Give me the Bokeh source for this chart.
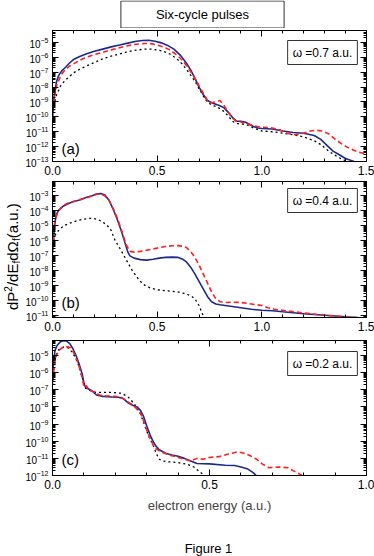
from bokeh.plotting import figure
from bokeh.models import (FixedTicker, LogAxis, LinearAxis, Label, Range1d,
                          PrintfTickFormatter, LogTickFormatter, BasicTickFormatter,
                          CustomLabelingPolicy)
from bokeh.layouts import column, row
from bokeh.embed import file_html
from bokeh.resources import INLINE

FONT = "Liberation Sans"
BLUE = "#1b2a8c"
RED = "#ff1f1f"
BLACK = "#000000"

# ---------------- data (y given as log10 of dP^2/dE dOmega) ----------------
# panel (a)  omega = 0.7 a.u.
a_blue_x = [0.0, 0.005, 0.01, 0.02, 0.03, 0.045, 0.06, 0.08, 0.1, 0.13, 0.16, 0.2, 0.24, 0.28, 0.32, 0.36,
            0.4, 0.43, 0.46, 0.49, 0.52, 0.55, 0.58, 0.61, 0.64, 0.66, 0.68, 0.7, 0.72, 0.74, 0.76, 0.78,
            0.8, 0.82, 0.84, 0.86, 0.88, 0.9, 0.92, 0.94, 0.96, 0.98, 1.0, 1.05, 1.1, 1.15, 1.2, 1.25,
            1.28, 1.31, 1.34, 1.37, 1.4, 1.43, 1.46, 1.5]
a_blue_lg = [-10.3, -9.0, -8.3, -7.6, -7.2, -6.9, -6.7, -6.4, -6.15, -5.95, -5.78, -5.6, -5.45, -5.3, -5.18, -5.05,
             -4.92, -4.87, -4.86, -4.92, -5.03, -5.2, -5.45, -5.85, -6.4, -6.85, -7.4, -8.0, -8.5, -8.9, -9.05, -9.15,
             -9.25, -9.4, -9.7, -10.05, -10.3, -10.3, -10.35, -10.5, -10.65, -10.75, -10.78, -10.82, -10.95, -11.05, -11.1, -11.25,
             -11.5, -11.9, -12.3, -12.55, -12.8, -12.95, -13.1, -13.3]
a_red_x = [0.005, 0.01, 0.02, 0.04, 0.06, 0.08, 0.1, 0.13, 0.16, 0.2, 0.24, 0.28, 0.32, 0.36, 0.4, 0.44,
           0.47, 0.5, 0.53, 0.56, 0.59, 0.62, 0.65, 0.68, 0.7, 0.72, 0.74, 0.76, 0.78, 0.8, 0.82, 0.84,
           0.86, 0.88, 0.9, 0.93, 0.96, 1.0, 1.04, 1.08, 1.12, 1.16, 1.2, 1.23, 1.26, 1.29, 1.32, 1.35,
           1.38, 1.41, 1.44, 1.47, 1.5]
a_red_lg = [-9.2, -8.6, -7.9, -7.2, -6.85, -6.6, -6.45, -6.2, -6.0, -5.82, -5.67, -5.5, -5.36, -5.22, -5.12, -5.07,
            -5.08, -5.18, -5.3, -5.5, -5.8, -6.2, -6.75, -7.4, -7.9, -8.4, -8.9, -9.05, -9.0, -8.9, -9.25, -9.7,
            -10.1, -10.3, -10.35, -10.45, -10.6, -10.7, -10.72, -10.85, -11.1, -11.2, -11.1, -10.95, -10.9, -10.95, -11.15, -11.5,
            -11.8, -12.05, -12.25, -12.4, -12.5]
a_blk_x = [0.005, 0.01, 0.02, 0.04, 0.06, 0.08, 0.1, 0.13, 0.16, 0.2, 0.24, 0.28, 0.32, 0.36, 0.4, 0.44,
           0.47, 0.5, 0.53, 0.56, 0.59, 0.62, 0.65, 0.68, 0.7, 0.72, 0.74, 0.76, 0.78, 0.8, 0.82, 0.84,
           0.86, 0.88, 0.9, 0.93, 0.96, 1.0, 1.05, 1.1, 1.15, 1.2, 1.25, 1.28, 1.31, 1.34, 1.37, 1.4, 1.42]
a_blk_lg = [-9.6, -9.0, -8.5, -7.9, -7.55, -7.3, -7.05, -6.8, -6.6, -6.35, -6.1, -5.92, -5.78, -5.62, -5.52, -5.45,
            -5.45, -5.5, -5.6, -5.78, -6.05, -6.45, -7.0, -7.6, -8.1, -8.6, -9.0, -9.2, -9.3, -9.45, -9.65, -9.95,
            -10.3, -10.45, -10.45, -10.55, -10.75, -10.95, -11.0, -11.1, -11.2, -11.35, -11.6, -11.85, -12.2, -12.5, -12.75, -12.95, -13.1]

# panel (b)  omega = 0.4 a.u.
b_blue_x = [0.0, 0.005, 0.01, 0.015, 0.02, 0.03, 0.05, 0.08, 0.1, 0.13, 0.16, 0.19, 0.21, 0.23, 0.25, 0.27,
            0.29, 0.31, 0.33, 0.35, 0.36, 0.37, 0.39, 0.42, 0.45, 0.48, 0.51, 0.54, 0.57, 0.6, 0.62, 0.64,
            0.66, 0.68, 0.7, 0.72, 0.74, 0.76, 0.78, 0.8, 0.85, 0.9, 0.95, 1.0, 1.05, 1.1, 1.2, 1.3, 1.4, 1.5]
b_blue_lg = [-6.8, -5.9, -5.0, -4.5, -4.2, -3.95, -3.7, -3.5, -3.38, -3.28, -3.12, -3.0, -2.88, -2.85, -2.95, -3.3,
             -3.9, -4.6, -5.4, -6.3, -6.75, -7.0, -7.15, -7.25, -7.28, -7.22, -7.15, -7.1, -7.08, -7.1, -7.2, -7.4,
             -7.75, -8.2, -8.7, -9.2, -9.7, -10.05, -10.2, -10.25, -10.35, -10.45, -10.55, -10.62, -10.65, -10.72, -10.85, -10.95, -11.05, -11.15]
b_red_x = [0.0, 0.005, 0.01, 0.02, 0.03, 0.05, 0.08, 0.1, 0.13, 0.16, 0.19, 0.21, 0.23, 0.25, 0.27, 0.29,
           0.31, 0.33, 0.35, 0.37, 0.39, 0.42, 0.45, 0.48, 0.51, 0.54, 0.57, 0.6, 0.62, 0.64, 0.66, 0.68,
           0.7, 0.72, 0.74, 0.76, 0.78, 0.8, 0.83, 0.86, 0.9, 0.95, 1.0, 1.03, 1.06, 1.1, 1.2, 1.3, 1.4, 1.5]
b_red_lg = [-6.6, -5.6, -4.8, -4.3, -4.0, -3.65, -3.45, -3.4, -3.25, -3.15, -3.0, -2.9, -2.9, -3.0, -3.3, -3.85,
            -4.5, -5.3, -6.2, -6.7, -6.75, -6.7, -6.62, -6.55, -6.45, -6.38, -6.33, -6.32, -6.35, -6.45, -6.7, -7.1,
            -7.6, -8.2, -8.8, -9.4, -9.85, -10.05, -10.1, -10.08, -10.1, -10.2, -10.3, -10.45, -10.55, -10.62, -10.8, -10.95, -11.05, -11.15]
b_blk_x = [0.0, 0.005, 0.01, 0.02, 0.04, 0.06, 0.09, 0.12, 0.15, 0.18, 0.2, 0.22, 0.24, 0.26, 0.28, 0.3,
           0.32, 0.34, 0.36, 0.38, 0.4, 0.42, 0.44, 0.47, 0.5, 0.55, 0.6, 0.63, 0.66, 0.68, 0.7, 0.72, 0.73]
b_blk_lg = [-6.3, -6.0, -5.7, -5.45, -5.15, -4.95, -4.78, -4.65, -4.55, -4.5, -4.52, -4.6, -4.75, -4.95, -5.3, -6.0,
            -6.45, -6.95, -7.45, -7.95, -8.35, -8.7, -8.95, -9.15, -9.25, -9.33, -9.4, -9.5, -9.65, -9.85, -10.3, -11.0, -11.3]

# panel (c)  omega = 0.2 a.u.
c_blue_x = [0.0, 0.003, 0.008, 0.015, 0.025, 0.035, 0.045, 0.055, 0.065, 0.075, 0.085, 0.095, 0.1, 0.105, 0.115, 0.125,
            0.14, 0.16, 0.19, 0.21, 0.225, 0.24, 0.255, 0.27, 0.28, 0.29, 0.3, 0.31, 0.32, 0.33, 0.34, 0.36,
            0.38, 0.4, 0.42, 0.44, 0.46, 0.5, 0.55, 0.58, 0.6, 0.62, 0.64, 0.66, 0.68]
c_blue_lg = [-6.5, -5.4, -4.7, -4.4, -4.2, -4.13, -4.15, -4.3, -4.6, -5.0, -5.5, -6.1, -6.6, -6.85, -6.95, -7.05,
             -7.3, -7.38, -7.42, -7.43, -7.5, -7.75, -7.9, -8.0, -8.2, -8.55, -9.1, -9.6, -10.0, -10.3, -10.5, -10.7,
             -10.8, -10.88, -11.0, -11.15, -11.3, -11.32, -11.4, -11.42, -11.5, -11.6, -11.85, -12.2, -12.6]
c_red_x = [0.0, 0.005, 0.01, 0.02, 0.03, 0.045, 0.055, 0.065, 0.075, 0.085, 0.095, 0.1, 0.108, 0.115, 0.13, 0.15,
           0.17, 0.2, 0.22, 0.24, 0.26, 0.28, 0.29, 0.3, 0.31, 0.32, 0.33, 0.35, 0.37, 0.4, 0.42, 0.44,
           0.46, 0.48, 0.5, 0.53, 0.56, 0.59, 0.61, 0.63, 0.65, 0.67, 0.69, 0.72, 0.75, 0.78, 0.8, 0.83]
c_red_lg = [-6.5, -5.8, -5.1, -4.72, -4.55, -4.48, -4.52, -4.75, -5.1, -5.65, -6.3, -6.85, -6.75, -7.0, -7.1, -7.3,
            -7.35, -7.38, -7.45, -7.7, -7.95, -8.35, -8.8, -9.35, -9.8, -10.2, -10.45, -10.65, -10.8, -10.95, -11.05, -11.15,
            -11.0, -11.05, -10.95, -10.9, -10.75, -10.62, -10.7, -10.85, -11.05, -11.35, -11.55, -11.5, -11.55, -11.85, -12.05, -12.2]
c_blk_x = [0.0, 0.005, 0.01, 0.02, 0.035, 0.05, 0.065, 0.08, 0.095, 0.105, 0.12, 0.14, 0.16, 0.19, 0.22, 0.24,
           0.26, 0.28, 0.29, 0.3, 0.31, 0.32, 0.33, 0.34, 0.35, 0.37, 0.4, 0.43, 0.45, 0.47, 0.49]
c_blk_lg = [-6.7, -5.7, -5.0, -4.65, -4.5, -4.55, -4.85, -5.4, -6.3, -6.9, -7.05, -7.15, -7.15, -7.15, -7.2, -7.4,
            -7.8, -8.4, -8.9, -9.4, -9.85, -10.2, -10.7, -11.05, -11.15, -11.2, -11.25, -11.35, -11.5, -11.8, -12.1]

panel_tags = ["(a)", "(b)", "(c)"]
omega_texts = ["\u03c9 =0.7 a.u.", "\u03c9 =0.4 a.u.", "\u03c9 =0.2 a.u."]
x_ticks_ab = [0.0, 0.5, 1.0, 1.5]
x_ticks_c = [0.0, 0.5, 1.0]
title_text = "Six-cycle pulses"
xlabel_text = "electron energy (a.u.)"
footer_text = "Figure 1"
ylabel_parts = [("dP", "main"), ("2", "sup"), ("/dE", "main"), ("f", "sub"),
                ("d\u03a9", "main"), ("f", "sub"), (" (a.u.)", "main")]

# ---------------- layout constants ----------------
TOTAL_W, TOTAL_H = 374, 556
SIDE_W = 22
W = TOTAL_W - SIDE_W       # panel width
FRAME_L = 27               # frame left edge at x = 49
FRAME_R = 8


def no_align(f):
    try:
        f.frame_align = False
    except Exception:
        pass


def style_axis(ax, labels=True, size="10px"):
    ax.major_tick_in = 6
    ax.major_tick_out = 0
    ax.minor_tick_in = 3
    ax.minor_tick_out = 0
    ax.axis_line_color = "black"
    ax.major_tick_line_color = "black"
    ax.minor_tick_line_color = "black"
    ax.major_label_text_font = FONT
    ax.major_label_text_color = "black"
    if labels:
        ax.major_label_text_font_size = size
        ax.major_label_standoff = 4
    else:
        ax.formatter = BasicTickFormatter()
        ax.major_label_text_font_size = "0px"
        ax.major_label_standoff = 0
        ax.major_label_policy = CustomLabelingPolicy(code="return new Set()")


def blank_fig(w, h):
    f = figure(width=w, height=h, x_range=Range1d(0, w), y_range=Range1d(0, h),
               output_backend="svg", toolbar_location=None, min_border=0,
               x_axis_location=None, y_axis_location=None)
    f.grid.visible = False
    f.outline_line_color = None
    f.background_fill_color = "white"
    f.border_fill_color = "white"
    no_align(f)
    return f


def make_panel(xmax, xticks, ylo, yhi, top, frame_h, bottom, series, tag, omega, tag_y, box_cy):
    p = figure(width=W, height=top + frame_h + bottom, y_axis_type="log",
               x_range=Range1d(0, xmax), y_range=Range1d(10 ** ylo, 10 ** yhi),
               output_backend="svg", toolbar_location=None,
               min_border_left=FRAME_L, min_border_right=FRAME_R,
               min_border_top=top, min_border_bottom=bottom)
    p.grid.visible = False
    p.outline_line_color = "black"
    p.background_fill_color = "white"
    p.border_fill_color = "white"

    decades = list(range(int(ylo) - 1, int(yhi) + 2))
    ymaj = [10.0 ** k for k in decades]
    ymin = [m * 10.0 ** k for k in decades for m in range(2, 10)]
    yt = FixedTicker(ticks=ymaj, minor_ticks=ymin)
    nmin = int(round(xmax * 10))
    xt = FixedTicker(ticks=xticks, minor_ticks=[i / 10 for i in range(nmin + 1)])

    yax = p.left[0]
    yax.ticker = yt
    yax.formatter = LogTickFormatter()
    style_axis(yax, True, "10px")
    xax = p.below[0]
    xax.ticker = xt
    xax.formatter = PrintfTickFormatter(format="%.1f")
    style_axis(xax, True, "12px")

    ra = LogAxis(ticker=yt)
    style_axis(ra, False)
    p.add_layout(ra, "right")
    ta = LinearAxis(ticker=xt)
    style_axis(ta, False)
    p.add_layout(ta, "above")

    for xs, lg, color, dash, lw in series:
        p.line(xs, [10.0 ** v for v in lg], line_color=color, line_dash=dash, line_width=lw)

    p.add_layout(Label(x=9, y=tag_y, x_units="screen", y_units="screen", text=tag,
                       text_font=FONT, text_font_size="15px", text_color="black"))
    p.add_layout(Label(x=270, y=box_cy, x_units="screen", y_units="screen", text=omega,
                       text_font=FONT, text_font_size="12px", text_color="black",
                       text_align="center", text_baseline="middle",
                       border_line_color="#333333", border_line_width=1,
                       background_fill_color="white", padding=5))
    return p


# title strip (title box centred at x = 202 in the page)
title_fig = blank_fig(W, 28)
title_fig.add_layout(Label(x=202 - SIDE_W, y=14, text=title_text,
                           text_font=FONT, text_font_size="13px", text_color="black",
                           text_align="center", text_baseline="middle",
                           border_line_color="#333333", border_line_width=1,
                           background_fill_color="white", padding=(35, 6)))

pa = make_panel(1.5, x_ticks_ab, -13, -4.2, 2, 131, 17,
                [(a_blk_x, a_blk_lg, BLACK, "2 3", 1.3),
                 (a_blue_x, a_blue_lg, BLUE, "solid", 1.6),
                 (a_red_x, a_red_lg, RED, "5 3", 1.6)],
                panel_tags[0], omega_texts[0], 5, 109)
pb = make_panel(1.5, x_ticks_ab, -11.1, -2.05, 3, 136, 19,
                [(b_blk_x, b_blk_lg, BLACK, "2 3", 1.3),
                 (b_blue_x, b_blue_lg, BLUE, "solid", 1.6),
                 (b_red_x, b_red_lg, RED, "5 3", 1.6)],
                panel_tags[1], omega_texts[1], 7, 117)
pc = make_panel(1.0, x_ticks_c, -12, -4.12, 4, 135, 63,
                [(c_blk_x, c_blk_lg, BLACK, "2 3", 1.3),
                 (c_blue_x, c_blue_lg, BLUE, "solid", 1.6),
                 (c_red_x, c_red_lg, RED, "5 3", 1.6)],
                panel_tags[2], omega_texts[2], 8, 112)

xl = pc.below[0]
xl.axis_label = xlabel_text
xl.axis_label_text_font = FONT
xl.axis_label_text_font_size = "13px"
xl.axis_label_text_font_style = "normal"
xl.axis_label_standoff = 6

# footer strip ("Figure 1" centred at x = 210 in the page)
footer_h = TOTAL_H - (28 + 150 + 158 + 202)
footer_fig = blank_fig(W, footer_h)
footer_fig.add_layout(Label(x=208 - SIDE_W, y=footer_h - 10, text=footer_text,
                            text_font=FONT, text_font_size="13px", text_color="black",
                            text_align="center", text_baseline="middle"))

# side strip with the rotated y label built from pieces (sub/superscripts)
side_fig = blank_fig(SIDE_W, TOTAL_H)
ADV = {'d': 0.556, 'P': 0.667, '/': 0.278, 'E': 0.667, '\u03a9': 0.768, ' ': 0.278, '(': 0.333,
       'a': 0.556, '.': 0.278, 'u': 0.556, ')': 0.333, '2': 0.556, 'f': 0.278}
pos = TOTAL_H - 309.5
for txt, kind in ylabel_parts:
    fs = 15 if kind == "main" else 10
    xc = {"main": 12, "sup": 7, "sub": 16}[kind]
    side_fig.add_layout(Label(x=xc, y=pos, text=txt,
                              angle=90, angle_units="deg", text_font=FONT,
                              text_font_size=f"{fs}px", text_color="black",
                              text_align="left", text_baseline="middle"))
    pos += sum(ADV.get(ch, 0.55) for ch in txt) * fs

layout = row(side_fig, column(title_fig, pa, pb, pc, footer_fig, spacing=0), spacing=0)
open("out.html", "w").write(file_html(layout, INLINE))
